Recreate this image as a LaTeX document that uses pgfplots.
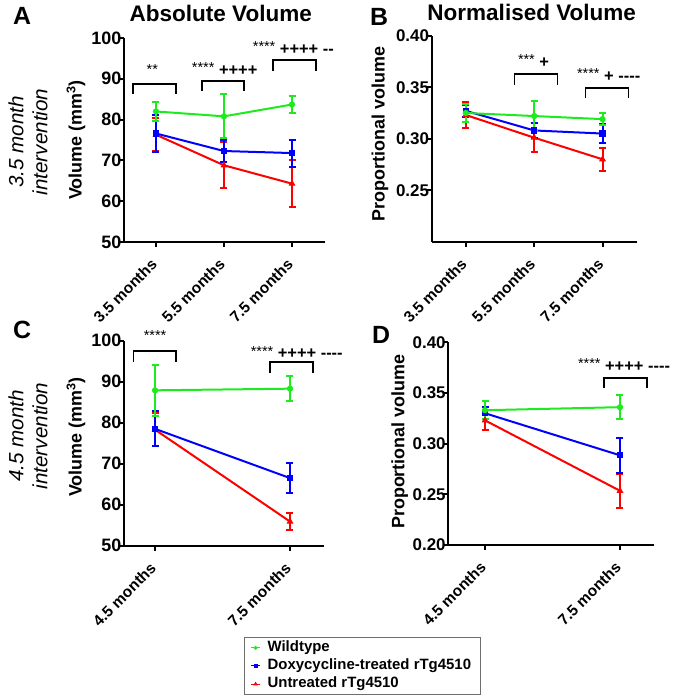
\documentclass[border=0pt]{standalone}
\usepackage{fontspec}
\setmainfont{Liberation Sans}[Ligatures=TeXOff]
\usepackage{pgfplots}
\usepackage{pgfplotstable}
\pgfplotsset{compat=1.18}
\definecolor{cg}{RGB}{30,235,30}
\definecolor{cb}{RGB}{0,0,255}
\definecolor{cr}{RGB}{255,0,0}
\definecolor{lgb}{RGB}{110,110,110}

\pgfplotstableread{
x g ge b be r re
0 82.0 2.3 76.6 4.5 76.3 4.0
1 80.8 5.4 72.3 2.8 68.8 5.6
2 83.7 2.1 71.8 3.3 64.3 5.7
}\tabA
\pgfplotstableread{
x g ge b be r re
0 0.325 0.009 0.327 0.006 0.323 0.013
1 0.322 0.015 0.308 0.007 0.301 0.014
2 0.319 0.006 0.305 0.0095 0.280 0.011
}\tabB
\pgfplotstableread{
x g ge b be r re
0 87.9 6.2 78.5 4.3 78.3 4.0
1 88.3 3.1 66.5 3.6 55.9 2.1
}\tabC
\pgfplotstableread{
x g ge b be r re
0 0.333 0.009 0.330 0.006 0.323 0.010
1 0.336 0.012 0.2885 0.017 0.2535 0.0165
}\tabD

\pgfplotsset{
  prism/.style={scale only axis, anchor=south west,
    axis x line=bottom, axis y line=left,
    axis line style={line width=2bp,-},
    tick align=outside, major tick length=5bp,
    tick style={line width=2bp,black},
    clip=false,
    /pgf/number format/assume math mode=true,
    yticklabel style={font=\fontsize{18}{18}\selectfont\bfseries, inner sep=0.5bp},
    yticklabel shift=-3bp,
    xticklabel style={font=\fontsize{15.5}{15.5}\selectfont\bfseries, anchor=north east, inner sep=0.5bp, xshift=-6bp, rotate=45},
    xticklabel shift=10bp,
    ylabel style={font=\fontsize{18}{20}\selectfont\bfseries, anchor=center},
  },
  dec/.style={yticklabel style={font=\fontsize{17}{17}\selectfont\bfseries, /pgf/number format/.cd, fixed, fixed zerofill, precision=2}},
  ser/.style={color=#1, line width=2bp, mark options={solid, fill=#1, line width=1bp},
    /pgfplots/error bars/y dir=both, /pgfplots/error bars/y explicit,
    /pgfplots/error bars/error bar style={line width=2bp, color=#1},
    /pgfplots/error bars/error mark options={rotate=90, mark size=3.5bp, line width=2bp, color=#1}},
}
\newcommand{\st}[1]{{\fontsize{14.5}{14.5}\selectfont\mdseries\raisebox{2.5bp}{#1}}}
\tikzset{ann/.style={font=\fontsize{16.5}{16.5}\selectfont\bfseries, inner sep=0pt}}

\begin{document}
\begin{tikzpicture}
\path[use as bounding box] (0,0) rectangle (674bp,-700bp);

% Panel A
\begin{axis}[prism, at={(124bp,-242bp)}, width=201bp, height=204bp,
  xmin=-0.47, xmax=2.485, ymin=50, ymax=100,
  xtick={0,1,2}, xticklabels={3.5 months,5.5 months,7.5 months},
  ytick={50,60,...,100},
  ylabel={Volume (mm\textsuperscript{3})},
  ylabel style={at={(axis description cs:-0.239,0.5)}}]
\addplot[ser=cr, mark=triangle*, mark size=3bp] table[x=x,y=r,y error=re] {\tabA};
\addplot[ser=cb, mark=square*, mark size=2.6bp] table[x=x,y=b,y error=be] {\tabA};
\addplot[ser=cg, mark=*, mark size=2.6bp] table[x=x,y=g,y error=ge] {\tabA};
\draw[line width=1.7bp] (axis cs:-0.34,86.3) |- (axis cs:0.29,88.7) -- (axis cs:0.29,86.3);
\draw[line width=1.7bp] (axis cs:0.68,87.0) |- (axis cs:1.29,89.5) -- (axis cs:1.29,87.0);
\draw[line width=1.7bp] (axis cs:1.72,91.9) |- (axis cs:2.35,94.6) -- (axis cs:2.35,91.9);
\node[ann] at (axis cs:-0.054,91.9) {\st{**}};
\node[ann] at (axis cs:1.01,92.4) {\st{****} ++++};
\node[ann] at (axis cs:2.02,97.6) {\st{****} ++++ --};
\end{axis}

% Panel B
\begin{axis}[prism, dec, at={(431.7bp,-241.7bp)}, width=205bp, height=206bp,
  xmin=-0.5, xmax=2.5, ymin=0.2, ymax=0.4,
  xtick={0,1,2}, xticklabels={3.5 months,5.5 months,7.5 months},
  ytick={0.25,0.3,0.35,0.4},
  ylabel={Proportional volume},
  ylabel style={at={(axis description cs:-0.252,0.523)}}]
\addplot[ser=cr, mark=triangle*, mark size=3bp] table[x=x,y=r,y error=re] {\tabB};
\addplot[ser=cb, mark=square*, mark size=2.6bp] table[x=x,y=b,y error=be] {\tabB};
\addplot[ser=cg, mark=*, mark size=2.6bp] table[x=x,y=g,y error=ge] {\tabB};
\draw[line width=1.7bp] (axis cs:0.71,0.3524) |- (axis cs:1.34,0.3628) -- (axis cs:1.34,0.3524);
\draw[line width=1.7bp] (axis cs:1.75,0.3392) |- (axis cs:2.38,0.3495) -- (axis cs:2.38,0.3392);
\node[ann] at (axis cs:0.99,0.3754) {\st{***} +};
\node[ann] at (axis cs:2.09,0.3618) {\st{****} + ----};
\end{axis}

% Panel C
\begin{axis}[prism, at={(124bp,-545.7bp)}, width=200bp, height=205bp,
  xmin=-0.23, xmax=1.252, ymin=50, ymax=100,
  xtick={0,1}, xticklabels={4.5 months,7.5 months},
  ytick={50,60,...,100},
  ylabel={Volume (mm\textsuperscript{3})},
  ylabel style={at={(axis description cs:-0.24,0.53)}},
  reverse legend,
  legend style={at={(axis description cs:0.6,-0.444)}, anchor=north west,
    draw=lgb, line width=1.2bp, font=\fontsize{15}{15}\selectfont\bfseries,
    inner xsep=6bp, inner ysep=1.5bp, row sep=0bp,
    nodes={text height=11.5bp, text depth=4bp, inner xsep=3bp, inner ysep=1.3bp},
    /tikz/every odd column/.append style={column sep=4bp}},
  legend cell align=left,
  legend image code/.code={\draw[mark repeat=2,mark phase=2,#1, line width=1bp, mark size=1.5bp] plot coordinates {(0bp,0bp) (4.5bp,0bp) (9bp,0bp)};}]
\addplot[ser=cr, mark=triangle*, mark size=3bp] table[x=x,y=r,y error=re] {\tabC};
\addlegendentry{Untreated rTg4510}
\addplot[ser=cb, mark=square*, mark size=2.6bp] table[x=x,y=b,y error=be] {\tabC};
\addlegendentry{Doxycycline-treated rTg4510}
\addplot[ser=cg, mark=*, mark size=2.6bp] table[x=x,y=g,y error=ge] {\tabC};
\addlegendentry{Wildtype}
\draw[line width=1.7bp] (axis cs:-0.16,94.9) |- (axis cs:0.153,97.5) -- (axis cs:0.153,94.9);
\draw[line width=1.7bp] (axis cs:0.85,92.2) |- (axis cs:1.17,94.8) -- (axis cs:1.17,92.2);
\node[ann] at (axis cs:0,101.0) {\st{****}};
\node[ann] at (axis cs:1.05,97.1) {\st{****} ++++ ----};
\end{axis}

% Panel D
\begin{axis}[prism, dec, at={(448.3bp,-545bp)}, width=205.7bp, height=202.7bp,
  xmin=-0.272, xmax=1.252, ymin=0.2, ymax=0.4,
  xtick={0,1}, xticklabels={4.5 months,7.5 months},
  ytick={0.2,0.25,0.3,0.35,0.4},
  ylabel={Proportional volume},
  ylabel style={at={(axis description cs:-0.236,0.51)}}]
\addplot[ser=cr, mark=triangle*, mark size=3bp] table[x=x,y=r,y error=re] {\tabD};
\addplot[ser=cb, mark=square*, mark size=2.6bp] table[x=x,y=b,y error=be] {\tabD};
\addplot[ser=cg, mark=*, mark size=2.6bp] table[x=x,y=g,y error=ge] {\tabD};
\draw[line width=1.7bp] (axis cs:0.88,0.3546) |- (axis cs:1.2,0.3645) -- (axis cs:1.2,0.3546);
\node[ann] at (axis cs:1.03,0.3776) {\st{****} ++++ ----};
\end{axis}

% Titles and panel letters
\node[font=\fontsize{25}{25}\selectfont\bfseries] at (22bp,-16bp) {A};
\node[font=\fontsize{25}{25}\selectfont\bfseries] at (379bp,-17bp) {B};
\node[font=\fontsize{25}{25}\selectfont\bfseries] at (22bp,-330bp) {C};
\node[font=\fontsize{25}{25}\selectfont\bfseries] at (381bp,-335bp) {D};
\node[font=\fontsize{22.6}{22.6}\selectfont\bfseries] at (220.8bp,-13bp) {Absolute Volume};
\node[font=\fontsize{22.6}{22.6}\selectfont\bfseries] at (531.7bp,-12.5bp) {Normalised Volume};
\node[font=\fontsize{20.7}{24}\selectfont\itshape, rotate=90, align=center] at (28bp,-142bp) {3.5 month\\intervention};
\node[font=\fontsize{20.7}{24}\selectfont\itshape, rotate=90, align=center] at (28bp,-436bp) {4.5 month\\intervention};
\end{tikzpicture}
\end{document}
